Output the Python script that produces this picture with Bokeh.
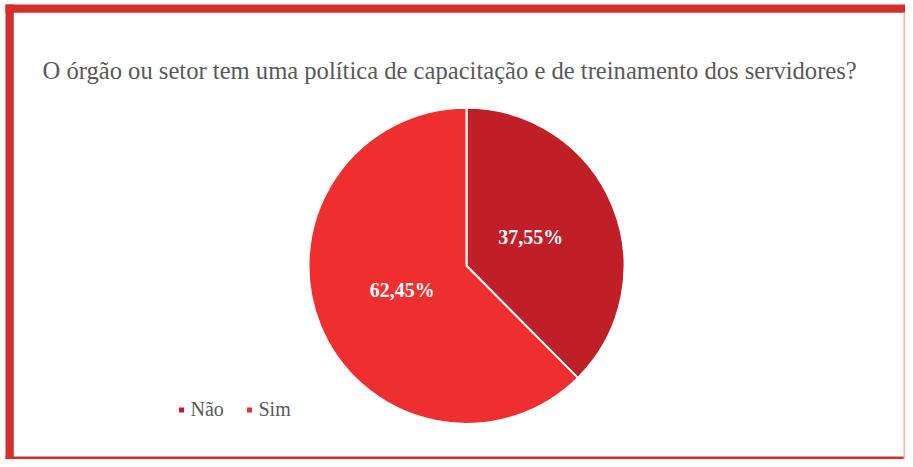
from bokeh.plotting import figure
from bokeh.models import ColumnDataSource, Label, BoxAnnotation, Range1d
from bokeh.core.properties import value
from bokeh.embed import file_html
from bokeh.resources import INLINE
import numpy as np

# ---- data ----
title_text = "O órgão ou setor tem uma política de capacitação e de treinamento dos servidores?"
categories = ["Não", "Sim"]
percentages = [37.55, 62.45]
labels = ["37,55%", "62,45%"]
colors = ["#C11F27", "#EE2E2F"]

# ---- layout (pixel-like data space) ----
W, H = 905, 459
CX, CY, R = 466, 193.7, 158

p = figure(width=W, height=H, output_backend="svg", toolbar_location=None,
           x_range=Range1d(0, W), y_range=Range1d(0, H), min_border=0,
           background_fill_color="white", border_fill_color="white")
p.axis.visible = False
p.grid.visible = False
p.outline_line_color = None

frac = np.array(percentages) / sum(percentages)
cum_end = np.cumsum(frac) * 2 * np.pi
cum_start = cum_end - frac * 2 * np.pi
start_angle = np.pi / 2 - cum_end
end_angle = np.pi / 2 - cum_start
mid = (start_angle + end_angle) / 2

src = ColumnDataSource(dict(cat=categories, start=start_angle, end=end_angle,
                            color=colors, label=labels,
                            lx=CX + 0.44 * R * np.cos(mid),
                            ly=CY + 0.44 * R * np.sin(mid) + 2.5))

p.wedge(x=CX, y=CY, radius=R, start_angle="start", end_angle="end",
        fill_color="color", line_color="white", line_width=2, source=src)

p.text(x="lx", y="ly", text="label", source=src, text_color="white",
       text_font=value("Liberation Serif"), text_font_style="bold",
       text_font_size="20px", text_align="center", text_baseline="middle")

# title
p.add_layout(Label(x=42, y=389, x_units="data", y_units="data", text=title_text,
                   text_font="Liberation Serif", text_font_size="24.6px",
                   text_color="#595959", text_baseline="alphabetic"))

# legend (manual)
leg = ColumnDataSource(dict(mx=[181, 249], my=[49.5, 49.5], tx=[190, 258],
                            ty=[50.5, 50.5], cat=categories, color=colors))
p.scatter(x="mx", y="my", marker="square", size=5, fill_color="color",
          line_color=None, source=leg)
p.text(x="tx", y="ty", text="cat", source=leg, text_color="#595959",
       text_font=value("Liberation Serif"), text_font_size="20px",
       text_baseline="middle", text_align="left")

# frame border
red = "#D32F2F"
for kw in [dict(left=5, right=13.3, bottom=0, top=455, fill_color=red),
           dict(left=5, right=W, bottom=446.7, top=455, fill_color=red),
           dict(left=5, right=W, bottom=0, top=3, fill_color=red),
           dict(left=W - 2, right=W, bottom=0, top=446.7, fill_color="#F4B4B4")]:
    p.add_layout(BoxAnnotation(fill_alpha=1, line_color=None, **kw))

open("out.html", "w").write(file_html(p, INLINE))
